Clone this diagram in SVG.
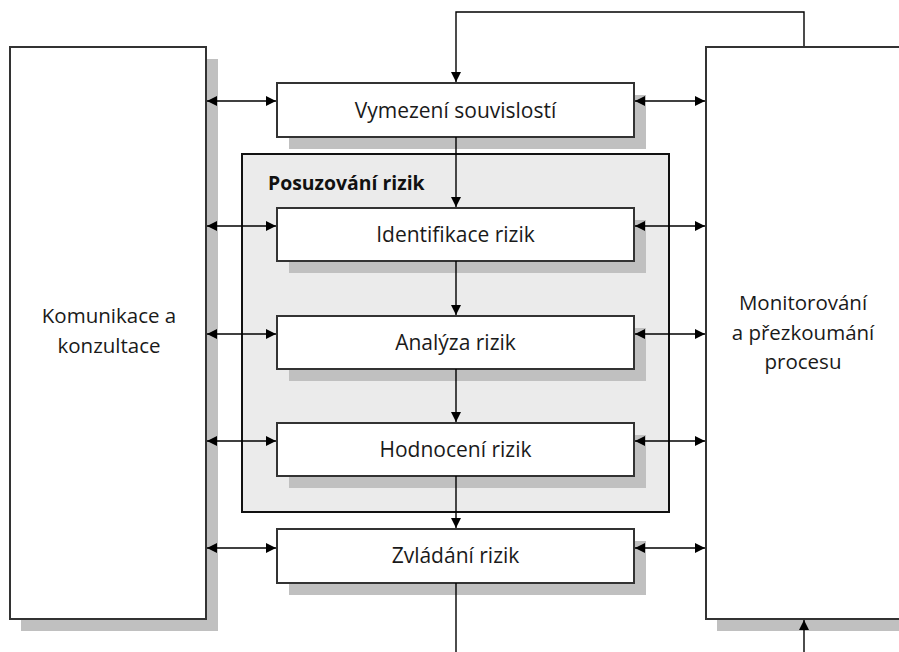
<svg xmlns="http://www.w3.org/2000/svg" width="899" height="652" viewBox="0 0 899 652">
<defs>
<marker id="ah" viewBox="0 0 10 10" refX="10" refY="5" markerWidth="10" markerHeight="10" markerUnits="userSpaceOnUse" orient="auto-start-reverse">
<path d="M0,0 L10,5 L0,10 z" fill="#000"/>
</marker>
<style>
.shadow{fill:#c0c0c0;stroke:none}
.box{fill:#fff;stroke:#333;stroke-width:2}
.group{fill:#ebebeb;stroke:#111;stroke-width:2}
.lbl{font-family:"Open Sans","Liberation Sans",sans-serif;font-size:21px;fill:#1a1a1a;text-anchor:middle}
.side{font-size:20.5px}
.ttl{font-family:"Open Sans","Liberation Sans",sans-serif;font-size:19.4px;font-weight:bold;fill:#111}
.con{fill:none;stroke:#000;stroke-width:1.4}
.bi{marker-start:url(#ah);marker-end:url(#ah)}
.one{marker-end:url(#ah)}
</style>
</defs>
<rect width="899" height="652" fill="#fff"/>

<g id="komunikace">
<rect class="shadow" x="21" y="59" width="197" height="572"/>
<rect class="box" x="10" y="47" width="196" height="572"/>
<text class="lbl side" x="109" y="323">Komunikace a</text>
<text class="lbl side" x="109" y="353">konzultace</text>
</g>

<g id="monitorovani">
<rect class="shadow" x="717" y="59" width="220" height="572"/>
<rect class="box" x="706" y="47" width="220" height="572"/>
<text class="lbl side" x="803" y="310">Monitorování</text>
<text class="lbl side" x="803" y="340">a přezkoumání</text>
<text class="lbl side" x="803" y="369">procesu</text>
</g>

<g id="posuzovani">
<rect class="group" x="242" y="154" width="427" height="358"/>
<text class="ttl" x="268" y="190">Posuzování rizik</text>
</g>

<g id="vymezeni">
<rect class="shadow" x="289" y="95" width="357" height="54"/>
<rect class="box" x="277" y="83" width="357" height="54"/>
<text class="lbl" x="455.5" y="118">Vymezení souvislostí</text>
</g>

<g id="identifikace">
<rect class="shadow" x="289" y="220" width="357" height="53"/>
<rect class="box" x="277" y="208" width="357" height="53"/>
<text class="lbl" x="455.5" y="242">Identifikace rizik</text>
</g>

<g id="analyza">
<rect class="shadow" x="289" y="328" width="357" height="53"/>
<rect class="box" x="277" y="316" width="357" height="53"/>
<text class="lbl" x="455.5" y="350">Analýza rizik</text>
</g>

<g id="hodnoceni">
<rect class="shadow" x="289" y="435" width="357" height="53"/>
<rect class="box" x="277" y="423" width="357" height="53"/>
<text class="lbl" x="455.5" y="457">Hodnocení rizik</text>
</g>

<g id="zvladani">
<rect class="shadow" x="289" y="541" width="357" height="54"/>
<rect class="box" x="277" y="529" width="357" height="54"/>
<text class="lbl" x="455.5" y="563">Zvládání rizik</text>
</g>

<g id="connectors">
<path class="con one" d="M804,46 V12 H456 V82"/>
<path class="con one" d="M456,137 V207"/>
<path class="con one" d="M456,261 V315"/>
<path class="con one" d="M456,369 V422"/>
<path class="con one" d="M456,476 V528"/>
<path class="con" d="M456,583 V652"/>
<path class="con one" d="M804,652 V620"/>
<path class="con bi" d="M207,101 H276"/>
<path class="con bi" d="M207,226 H276"/>
<path class="con bi" d="M207,334 H276"/>
<path class="con bi" d="M207,441 H276"/>
<path class="con bi" d="M207,548 H276"/>
<path class="con bi" d="M635,101 H705"/>
<path class="con bi" d="M635,226 H705"/>
<path class="con bi" d="M635,334 H705"/>
<path class="con bi" d="M635,441 H705"/>
<path class="con bi" d="M635,548 H705"/>
</g>
</svg>
